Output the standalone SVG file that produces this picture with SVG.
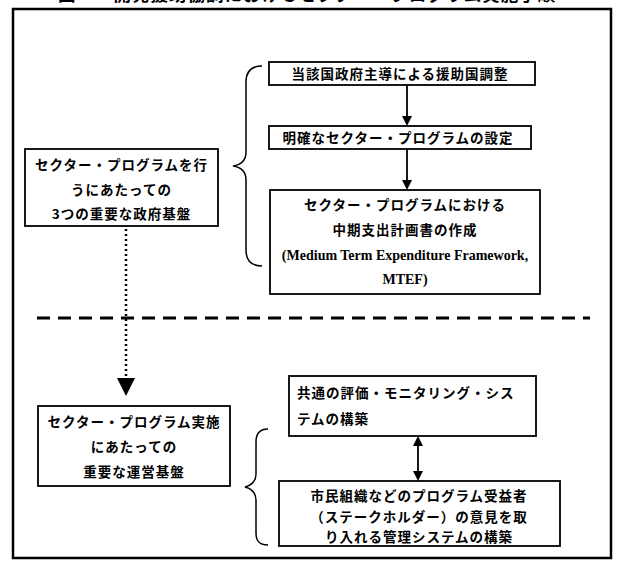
<svg xmlns="http://www.w3.org/2000/svg" width="619" height="564" viewBox="0 0 619 564">
<style>
.box{fill:#fff;stroke:#000;stroke-width:1.8}
.frame{fill:none;stroke:#000;stroke-width:2.5}
.t{font-family:"Noto Sans CJK JP","Noto Sans CJK SC",sans-serif;font-size:13.5px;font-weight:bold;text-anchor:middle;letter-spacing:1px;fill:#000}
.l{text-anchor:start}
.e{font-family:"Liberation Serif",serif;font-size:14px;font-weight:bold;text-anchor:middle;fill:#000}
.ln{stroke:#000;stroke-width:1.8;fill:none}
.br{stroke:#000;stroke-width:1.5;fill:none}
.ah{fill:#000}
</style>
<text x="58" y="1" style="font-family:'Noto Sans CJK JP',sans-serif;font-size:17.5px;font-weight:bold;letter-spacing:1px">図　　開発援助協調におけるセクター・プログラム実施手順</text>
<rect class="frame" x="13" y="9" width="598" height="549"/>
<g id="connectors">
<line class="ln" x1="407" y1="85" x2="407" y2="117"/>
<polygon class="ah" points="402,116 412,116 407,126"/>
<line class="ln" x1="407" y1="149" x2="407" y2="181"/>
<polygon class="ah" points="402,180 412,180 407,190"/>
<line x1="126" y1="229" x2="126" y2="378" stroke="#000" stroke-width="2.5" stroke-dasharray="2 3"/>
<polygon class="ah" points="117,378 135,378 126,396"/>
<line x1="37" y1="318" x2="590" y2="318" stroke="#000" stroke-width="3" stroke-dasharray="13 8"/>
<line class="ln" x1="418" y1="444" x2="418" y2="473"/>
<polygon class="ah" points="413,446 423,446 418,436"/>
<polygon class="ah" points="413,471 423,471 418,481"/>
<path class="br" d="M262,66 C250,66 246,72 246,82 L246,152 C246,161 240,165 233,166 C240,167 246,171 246,180 L246,250 C246,260 250,266 262,266"/>
<path class="br" d="M268,429 C259,429 256,434 256,442 L256,474 C256,482 250,486 245,487 C250,488 256,492 256,500 L256,533 C256,541 259,545 268,545"/>
</g>
<g id="l1">
<rect class="box" x="25" y="149" width="193" height="77"/>
<text class="t" x="121.5" y="170">セクター・プログラムを行</text>
<text class="t" x="121.5" y="195">うにあたっての</text>
<text class="t" x="121.5" y="219">3つの重要な政府基盤</text>
</g>
<g id="a1">
<rect class="box" x="269" y="62" width="266" height="23"/>
<text class="t" x="400" y="79">当該国政府主導による援助国調整</text>
</g>
<g id="a2">
<rect class="box" x="269" y="126" width="262" height="23"/>
<text class="t" x="398" y="143">明確なセクター・プログラムの設定</text>
</g>
<g id="a3">
<rect class="box" x="270" y="190" width="270" height="104"/>
<text class="t" x="405" y="210">セクター・プログラムにおける</text>
<text class="t" x="405" y="235">中期支出計画書の作成</text>
<text class="e" x="405" y="260">(Medium Term Expenditure Framework,</text>
<text class="e" x="405" y="284">MTEF)</text>
</g>
<g id="l2">
<rect class="box" x="38" y="406" width="192" height="80"/>
<text class="t" x="134" y="427">セクター・プログラム実施</text>
<text class="t" x="134" y="452">にあたっての</text>
<text class="t" x="134" y="477">重要な運営基盤</text>
</g>
<g id="r1">
<rect class="box" x="289" y="376" width="247" height="60"/>
<text class="t l" x="297" y="398">共通の評価・モニタリング・シス</text>
<text class="t l" x="297" y="424">テムの構築</text>
</g>
<g id="r2">
<rect class="box" x="279" y="481" width="281" height="65"/>
<text class="t" x="419" y="501">市民組織などのプログラム受益者</text>
<text class="t" x="419" y="522">（ステークホルダー）の意見を取</text>
<text class="t" x="419" y="542">り入れる管理システムの構築</text>
</g>
</svg>
